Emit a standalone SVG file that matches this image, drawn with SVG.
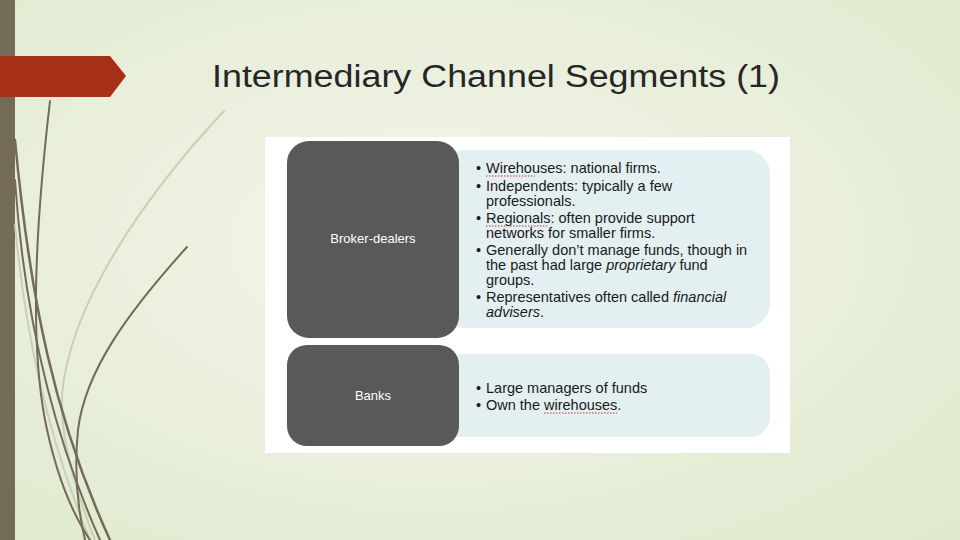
<svg xmlns="http://www.w3.org/2000/svg" width="960" height="540" viewBox="0 0 960 540">
<defs>
<radialGradient id="bg" cx="0.45" cy="0.45" r="0.8">
<stop offset="0" stop-color="#f3f6ea"/><stop offset="1" stop-color="#dfe8cc"/>
</radialGradient>
<style>
.t{font-family:"Liberation Sans",Arial,sans-serif;font-size:14.5px;fill:#1a1a1a}
.w{font-family:"Liberation Sans",Arial,sans-serif;font-size:13px;fill:#ffffff}
.dark{fill:#595959}
.light{fill:#e3eff1}
.c{fill:none;stroke:#736b55;stroke-linecap:round}
.cl{fill:none;stroke:#c9cfb8;stroke-linecap:round}
.sp{stroke:#d03030;stroke-width:1;stroke-dasharray:1.5 1.5}
</style>
</defs>
<rect width="960" height="540" fill="url(#bg)"/>
<rect x="0" y="0" width="15" height="540" fill="#736b55"/>
<g id="deco">
<path class="cl" stroke-width="2" d="M224 111 C150 190 70 300 62 395 C60 440 75 490 95 540"/>
<path class="cl" stroke-width="2" d="M15 225 C25 330 45 430 90 540"/>
<path class="c" stroke-width="2" d="M50 101 C35 230 30 340 45 420 C55 470 70 510 90 540"/>
<path class="c" stroke-width="2.5" d="M15 140 C30 300 55 420 110 540"/>
<path class="c" stroke-width="2" d="M187 247 C130 310 85 370 78 430 C74 470 78 510 85 540"/>
<path class="c" stroke-width="2" d="M15 180 C25 330 60 450 100 540"/>
</g>
<polygon points="0,56 110,56 126,76 110,97 0,97" fill="#a53015"/>
<text x="212" y="87" font-family="'Liberation Sans',Arial,sans-serif" font-size="31" fill="#262626" textLength="568" lengthAdjust="spacingAndGlyphs">Intermediary Channel Segments (1)</text>
<rect x="265" y="137" width="525" height="316" fill="#ffffff"/>
<g id="broker">
<rect class="light" x="440" y="150" width="330" height="178" rx="24"/>
<rect class="dark" x="287" y="141" width="172" height="197" rx="22"/>
<text class="w" x="373" y="243" text-anchor="middle">Broker-dealers</text>
<g class="t">
<text x="476" y="173">•</text><text x="486" y="173">Wirehouses: national firms.</text>
<text x="476" y="191">•</text><text x="486" y="191">Independents: typically a few</text>
<text x="486" y="206">professionals.</text>
<text x="476" y="223">•</text><text x="486" y="223">Regionals: often provide support</text>
<text x="486" y="238">networks for smaller firms.</text>
<text x="476" y="255">•</text><text x="486" y="255">Generally don’t manage funds, though in</text>
<text x="486" y="270">the past had large <tspan font-style="italic">proprietary</tspan> fund</text>
<text x="486" y="285">groups.</text>
<text x="476" y="302">•</text><text x="486" y="302">Representatives often called <tspan font-style="italic">financial</tspan></text>
<text x="486" y="317" font-style="italic">advisers<tspan font-style="normal">.</tspan></text>
</g>
<line class="sp" x1="486" y1="176" x2="535" y2="176"/>
<line class="sp" x1="486" y1="226" x2="547" y2="226"/>
</g>
<g id="banks">
<rect class="light" x="440" y="354" width="330" height="83" rx="20"/>
<rect class="dark" x="287" y="345" width="172" height="101" rx="20"/>
<text class="w" x="373" y="400" text-anchor="middle">Banks</text>
<g class="t">
<text x="476" y="393">•</text><text x="486" y="393">Large managers of funds</text>
<text x="476" y="410">•</text><text x="486" y="410">Own the wirehouses.</text>
</g>
<line class="sp" x1="544" y1="413" x2="617" y2="413"/>
</g>
<g id="connectors"/>
</svg>
